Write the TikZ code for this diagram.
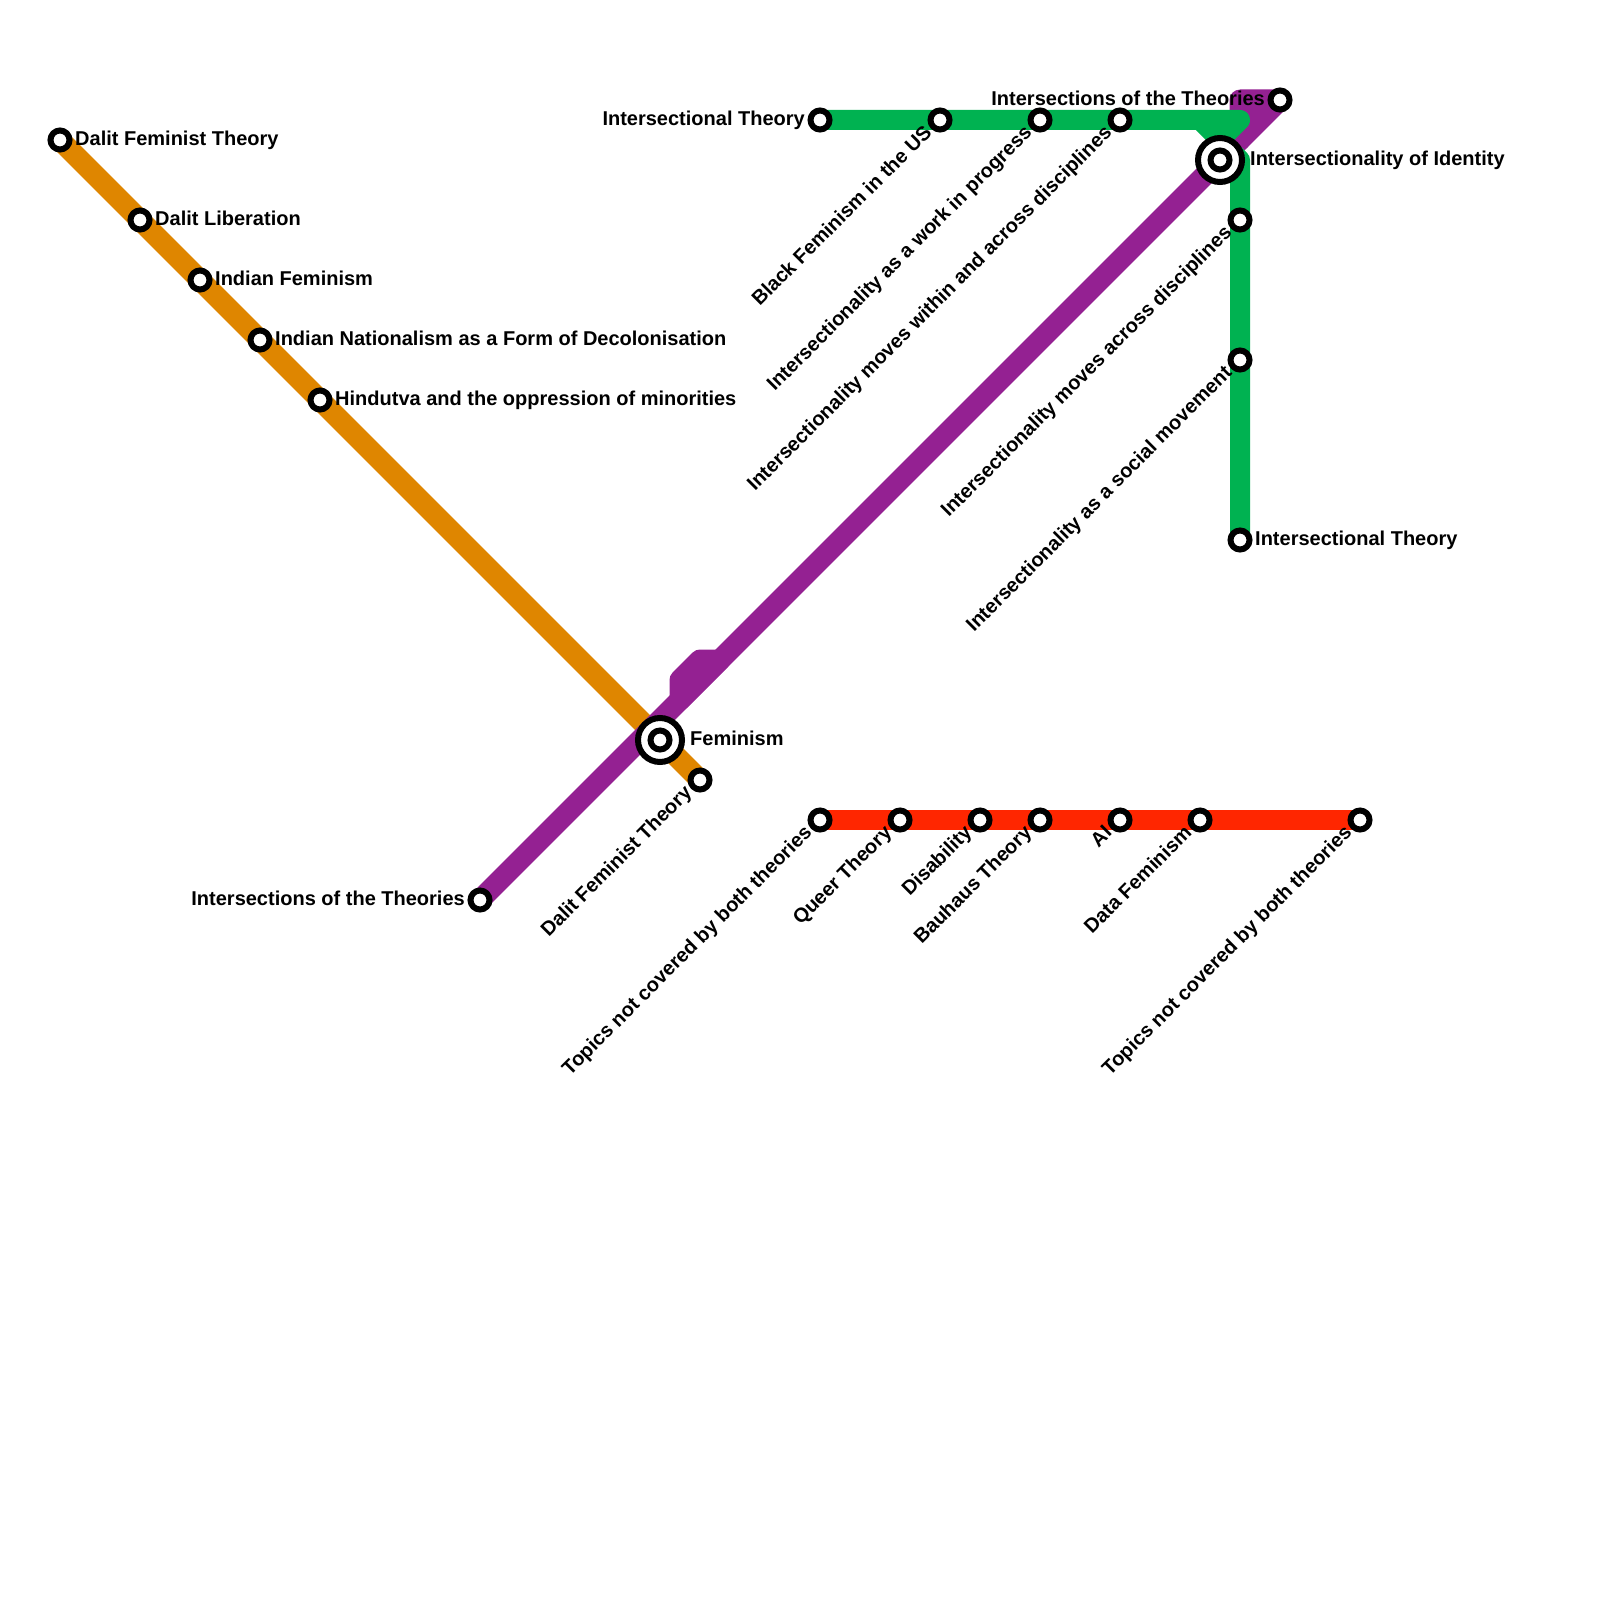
\documentclass[tikz,border=0pt]{standalone}
\usepackage{fontspec}
\setmainfont{Liberation Sans}
\usetikzlibrary{backgrounds}
\definecolor{orangeline}{HTML}{DF8600}
\definecolor{purpleline}{HTML}{942192}
\definecolor{greenline}{HTML}{00B251}
\definecolor{redline}{HTML}{FF2600}
\tikzset{
  x=1pt,y=-1pt,
  metro/.style={line width=20pt,line cap=round,line join=round},
  diag/.style={line width=21pt,line cap=round,line join=round},
  stn/.style={circle,draw=black,fill=white,line width=6pt,minimum size=19pt,inner sep=0pt,outer sep=0pt},
  hub/.style={circle,draw=black,fill=white,line width=6pt,minimum size=44pt,inner sep=0pt,outer sep=0pt},
  hubin/.style={circle,draw=black,fill=white,line width=6pt,minimum size=19pt,inner sep=0pt,outer sep=0pt},
  lbl/.style={font=\fontsize{20}{20}\selectfont\bfseries,inner sep=0pt,text=black},
  lblr/.style={lbl,anchor=mid west},
  lbll/.style={lbl,anchor=mid east},
  lbld/.style={lbl,anchor=mid east,rotate=45},
}
\begin{document}
\begin{tikzpicture}
\useasboundingbox (0,0) rectangle (1600,1600);
% orange stations
\node[stn] (o1) at (60,140) {};
\node[stn] (o2) at (140,220) {};
\node[stn] (o3) at (200,280) {};
\node[stn] (o4) at (260,340) {};
\node[stn] (o5) at (320,400) {};
\node[stn] (o6) at (700,780) {};
% purple stations
\node[stn] (p1) at (480,900) {};
\node[stn] (p2) at (1280,100) {};
% hubs
\node[hub] (h1) at (660,740) {};
\node[hubin] (h1i) at (660,740) {};
\node[hub] (h2) at (1220,160) {};
\node[hubin] (h2i) at (1220,160) {};
% green stations
\node[stn] (g1) at (820,120) {};
\node[stn] (g2) at (940,120) {};
\node[stn] (g3) at (1040,120) {};
\node[stn] (g4) at (1120,120) {};
\node[stn] (g5) at (1240,220) {};
\node[stn] (g6) at (1240,360) {};
\node[stn] (g7) at (1240,540) {};
% red stations
\node[stn] (r1) at (820,820) {};
\node[stn] (r2) at (900,820) {};
\node[stn] (r3) at (980,820) {};
\node[stn] (r4) at (1040,820) {};
\node[stn] (r5) at (1120,820) {};
\node[stn] (r6) at (1200,820) {};
\node[stn] (r7) at (1360,820) {};
% bends
\coordinate (pa) at (680,700);
\coordinate (pb) at (680,680);
\coordinate (pc) at (700,660);
\coordinate (pd) at (720,660);
\coordinate (pe) at (1240,100);
\coordinate (pf) at (1240,140);
\coordinate (ga) at (1240,120);
\coordinate (gb) at (1220,140);
\coordinate (gc) at (1200,120);
\coordinate (gd) at (1240,160);
\begin{scope}[on background layer]
\draw[diag,orangeline] (o1.center) -- (o6.center);
\draw[diag,purpleline] (p1.center) -- (pa) -- (pd) -- (pf);
\draw[diag,purpleline,fill=purpleline] (pa) -- (pb) -- (pc) -- (pd) -- cycle;
\draw[diag,purpleline,fill=purpleline] (pf) -- (p2.center) -- (pe) -- cycle;
\draw[metro,redline] (r1.center) -- (r7.center);
\draw[metro,greenline] (g1.center) -- (ga) -- (gb);
\draw[metro,greenline] (gc) -- (gb) -- (gd) -- (g7.center);
\end{scope}
% labels
\node[lblr] (to1) at ([shift={(15,3)}]o1.center) {Dalit Feminist Theory};
\node[lblr] (to2) at ([shift={(15,3)}]o2.center) {Dalit Liberation};
\node[lblr] (to3) at ([shift={(15,3)}]o3.center) {Indian Feminism};
\node[lblr] (to4) at ([shift={(15,3)}]o4.center) {Indian Nationalism as a Form of Decolonisation};
\node[lblr] (to5) at ([shift={(15,3)}]o5.center) {Hindutva and the oppression of minorities};
\node[lbld] (to6) at ([shift={(-9,12)}]o6.center) {Dalit Feminist Theory};
\node[lbll] (tp1) at ([shift={(-15,3)}]p1.center) {Intersections of the Theories};
\node[lbll] (tp2) at ([shift={(-15,3)}]p2.center) {Intersections of the Theories};
\node[lblr] (th1) at ([shift={(30,3)}]h1.center) {Feminism};
\node[lblr] (th2) at ([shift={(30,3)}]h2.center) {Intersectionality of Identity};
\node[lbll] (tg1) at ([shift={(-15,3)}]g1.center) {Intersectional Theory};
\node[lbld] (tg2) at ([shift={(-9,12)}]g2.center) {Black Feminism in the US};
\node[lbld] (tg3) at ([shift={(-9,12)}]g3.center) {Intersectionality as a work in progress};
\node[lbld] (tg4) at ([shift={(-9,12)}]g4.center) {Intersectionality moves within and across disciplines};
\node[lbld] (tg5) at ([shift={(-9,12)}]g5.center) {Intersectionality moves across disciplines};
\node[lbld] (tg6) at ([shift={(-9,12)}]g6.center) {Intersectionality as a social movement};
\node[lblr] (tg7) at ([shift={(15,3)}]g7.center) {Intersectional Theory};
\node[lbld] (tr1) at ([shift={(-9,12)}]r1.center) {Topics not covered by both theories};
\node[lbld] (tr2) at ([shift={(-9,12)}]r2.center) {Queer Theory};
\node[lbld] (tr3) at ([shift={(-9,12)}]r3.center) {Disability};
\node[lbld] (tr4) at ([shift={(-9,12)}]r4.center) {Bauhaus Theory};
\node[lbld] (tr5) at ([shift={(-9,12)}]r5.center) {AI};
\node[lbld] (tr6) at ([shift={(-9,12)}]r6.center) {Data Feminism};
\node[lbld] (tr7) at ([shift={(-9,12)}]r7.center) {Topics not covered by both theories};
\end{tikzpicture}
\end{document}
